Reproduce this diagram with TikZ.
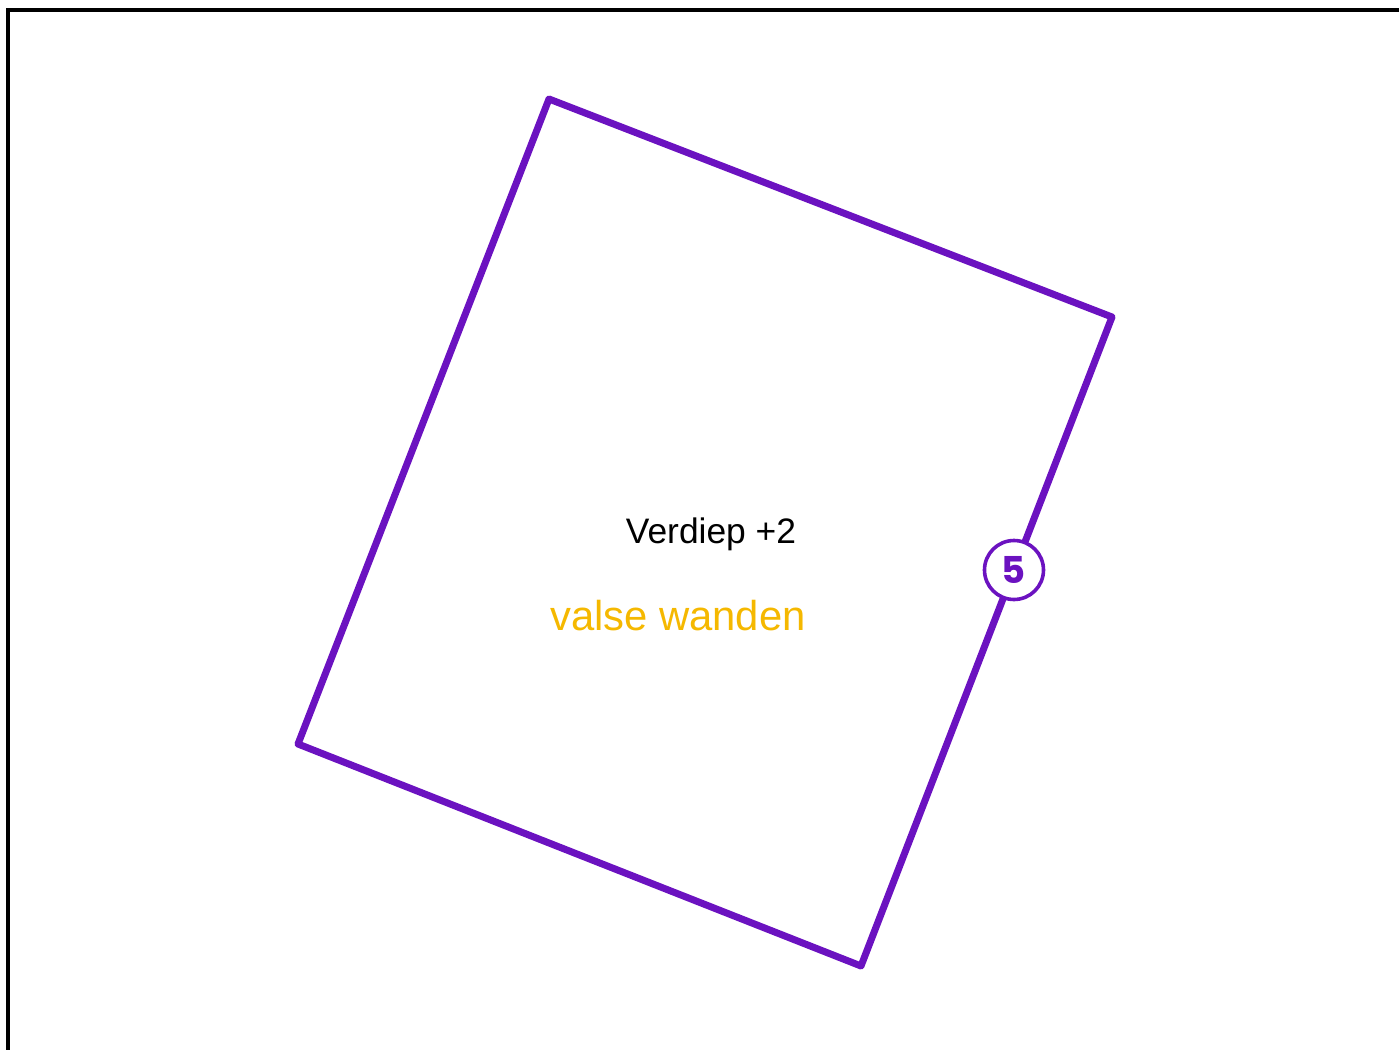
\documentclass[tikz,border=0pt]{standalone}
\usepackage{fontspec}
\setmainfont{Liberation Sans}
\newfontfamily\badgefont{Poppins}
\definecolor{wallpurple}{HTML}{6B12C0}
\definecolor{labelyellow}{HTML}{F5B800}
\begin{document}
\begin{tikzpicture}[x=0.5pt,y=-0.5pt,
  wall/.style={draw=wallpurple,line width=3.5pt,line join=round,line cap=round},
  frameline/.style={draw=black,line width=1.7pt},
  badge/.style={circle,draw=wallpurple,fill=white,line width=1.8pt,minimum size=29.5pt,inner sep=0pt,text=wallpurple,font=\badgefont\bfseries\fontsize{18.5}{18.5}\selectfont},
  floorlabel/.style={font=\fontsize{17.7}{18}\selectfont,text=black},
  typelabel/.style={font=\fontsize{20.9}{21}\selectfont,text=labelyellow}]
\useasboundingbox (0,0) rectangle (1399,1050);
\coordinate (fa) at (8,1052);
\coordinate (fb) at (8,10);
\coordinate (fc) at (1401,10);
\draw[frameline] (fa) -- (fb) -- (fc);
\coordinate (p1) at (549,99);
\coordinate (p2) at (1112,317);
\coordinate (p3) at (861,966);
\coordinate (p4) at (298,744);
\draw[wall] (p1) -- (p2) -- (p3) -- (p4) -- cycle;
\node[badge] (b5) at (1014,570) {5};
\node[floorlabel] (lvl) at (711,534) {Verdiep +2};
\node[typelabel] (kind) at (678,616) {valse wanden};
\end{tikzpicture}
\end{document}
